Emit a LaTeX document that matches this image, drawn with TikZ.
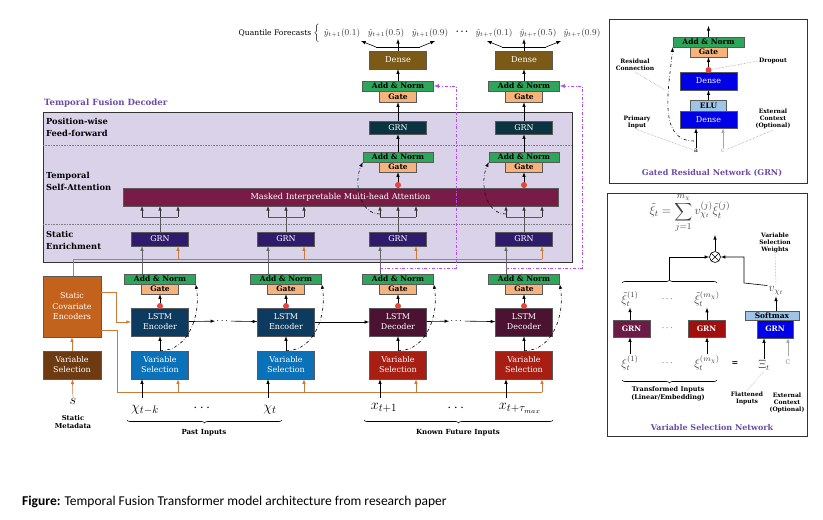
\documentclass[tikz,border=0pt]{standalone}
\usepackage{amssymb, mathtools}
\usepackage{fontspec}
\setmainfont{DejaVu Serif}
\newfontfamily\capfont{Carlito}
\usetikzlibrary{decorations.pathreplacing}

\definecolor{decbg}{HTML}{DAD2E9}
\definecolor{decpurple}{HTML}{6B4BA6}
\definecolor{attnred}{HTML}{781B47}
\definecolor{grnenr}{HTML}{2E1B6C}
\definecolor{grnpos}{HTML}{0C3440}
\definecolor{addgreen}{HTML}{2DA55A}
\definecolor{gatepeach}{HTML}{F6B37C}
\definecolor{densebrown}{HTML}{7A5A16}
\definecolor{lstmenc}{HTML}{0D3A5F}
\definecolor{lstmdec}{HTML}{4B1232}
\definecolor{vsenc}{HTML}{0B72B9}
\definecolor{vsdec}{HTML}{A71E12}
\definecolor{scebox}{HTML}{C2621C}
\definecolor{staticvs}{HTML}{6D3A12}
\definecolor{orangeline}{HTML}{CC7A3A}
\definecolor{skipviolet}{HTML}{B44CF2}
\definecolor{dotred}{HTML}{E5463D}
\definecolor{denseblue}{HTML}{0000E6}
\definecolor{lightblue}{HTML}{9EC4E6}
\definecolor{vsngrnA}{HTML}{6C1B47}
\definecolor{vsngrnB}{HTML}{A10F0D}

\begin{document}
\begin{tikzpicture}[x=1pt, y=-1pt,
    box/.style={draw=black!65, line width=0.5pt, inner sep=0pt, align=center, text=white, font=\fontsize{8}{9}\selectfont},
    addnorm/.style={box, fill=addgreen, text=black, minimum width=71, minimum height=10, font=\fontsize{7.5}{8}\selectfont\bfseries},
    gatebox/.style={box, fill=gatepeach, text=black, minimum width=37, minimum height=10, font=\fontsize{7.5}{8}\selectfont\bfseries},
    reddot/.style={circle, fill=dotred, inner sep=0pt, minimum size=6},
    arr/.style={-latex, line width=0.6pt},
    res/.style={-latex, dash dot, line width=0.6pt},
    skipline/.style={-latex, dash dot, draw=skipviolet, line width=0.8pt},
    note/.style={font=\fontsize{6}{7}\selectfont\bfseries, align=center, inner sep=1pt},
    leader/.style={densely dotted, black!45, line width=0.5pt},
    bigmath/.style={font=\fontsize{15}{18}\selectfont, inner sep=1pt},
    vmath/.style={text=black!75, font=\fontsize{12}{13}\selectfont, inner sep=1pt}]

      \useasboundingbox[fill=white] (0,0) rectangle (823,520);

      % temporal fusion decoder
      \draw[fill=decbg, draw=black!80, line width=0.7pt] (43,112) rectangle (572,262);
      \draw[densely dotted, black!50, line width=0.6pt] (43,145) -- (572,145);
      \draw[densely dotted, black!50, line width=0.6pt] (43,224) -- (572,224);
      \node[anchor=west, text=decpurple, font=\fontsize{8.6}{9}\selectfont\bfseries, inner sep=0pt] (tfd) at (44,103) {Temporal Fusion Decoder};
      \node[anchor=north west, align=left, font=\fontsize{8.3}{12}\selectfont\bfseries, inner sep=0pt] (pwff) at (46,118) {Position-wise\\Feed-forward};
      \node[anchor=north west, align=left, font=\fontsize{8.3}{12}\selectfont\bfseries, inner sep=0pt] (tsa) at (46,172) {Temporal\\Self-Attention};
      \node[anchor=north west, align=left, font=\fontsize{8.3}{11.5}\selectfont\bfseries, inner sep=0pt] (senr) at (46,231) {Static\\Enrichment};

      \node[box, fill=attnred, minimum width=435, minimum height=18, font=\fontsize{8.2}{9}\selectfont] (att) at (340.5,197) {Masked Interpretable Multi-head Attention};

      % static covariate encoders
      \node[box, fill=scebox, minimum width=58, minimum height=61, font=\fontsize{8}{10.5}\selectfont] (sce) at (72,306.5) {Static\\Covariate\\Encoders};
      \node[box, fill=staticvs, minimum width=58, minimum height=28, font=\fontsize{8}{10}\selectfont] (svs) at (72,365) {Variable\\Selection};
      \node[bigmath] (smeta) at (73,401) {$s$};
      \node[note, font=\fontsize{6.8}{8}\selectfont\bfseries] (smetalab) at (73,422) {Static\\Metadata};
      \draw[arr, orangeline] (smeta) -- (svs);
      \draw[arr, orangeline] (svs) -- (sce);
      \draw[orangeline, line width=0.7pt] (sce.north -| 73,0) -- (73,259) -- (542,259);
      \draw[arr, orangeline] (sce.east |- 0,292) -- (116,292) -- (116,322) -- (131,322);
      \draw[orangeline, line width=0.7pt] (sce.east |- 0,330) -- (117,330) -- (117,392) -- (542,392);

      % lstm columns
      \foreach \i/\x/\vcol/\lcol/\lname in {1/160/vsenc/lstmenc/Encoder, 2/286/vsenc/lstmenc/Encoder, 3/398/vsdec/lstmdec/Decoder, 4/524/vsdec/lstmdec/Decoder} {
        \node[box, fill=\vcol, minimum width=57, minimum height=28, font=\fontsize{8}{10}\selectfont] (vs\i) at (\x,365) {Variable\\Selection};
        \node[box, fill=\lcol, minimum width=57, minimum height=28, font=\fontsize{8}{10}\selectfont] (lstm\i) at (\x,322) {LSTM\\\lname};
        \node[gatebox] (lg\i) at (\x,289) {Gate};
        \node[addnorm] (la\i) at (\x,279) {Add \& Norm};
        \node[box, fill=grnenr, minimum width=57, minimum height=14] (eg\i) at (\x,239) {GRN};
        \draw[arr] (vs\i) -- (lstm\i);
        \draw[arr] (lstm\i) -- (lg\i);
        \node[reddot] (ld\i) at (\x,306) {};
        \draw[res] (vs\i.north) to[out=0, in=-80] (la\i.south east);
        \coordinate (in\i) at ({\x-18},398);
        \draw[arr] (in\i) -- (in\i |- vs\i.south);
        \coordinate (ob\i) at ({\x+18},392);
        \draw[arr, orangeline] (ob\i) -- (ob\i |- vs\i.south);
        \coordinate (oe\i) at ({\x+18},259);
        \draw[arr, orangeline] (oe\i) -- (oe\i |- eg\i.south);
        \coordinate (la\i up) at ({\x-18},274);
        \draw[arr, black!60] (la\i up) -- (la\i up |- eg\i.south);
        \coordinate (br\i) at (\x,217);
        \draw[black!65, line width=0.6pt] (eg\i) -- (br\i);
        \draw[black!65, line width=0.6pt] ({\x-18},217) -- ({\x+18},217);
        \foreach \d in {-18,0,18}
          \draw[arr, black!80] ({\x+\d},217) -- ({\x+\d},206);
      }

      \node[inner sep=1pt] (ldots1) at (223,321) {$\cdots$};
      \node[inner sep=1pt] (ldots2) at (457,321) {$\cdots$};
      \draw[arr] (lstm1) -- (ldots1);
      \draw[arr] (ldots1) -- (lstm2);
      \draw[arr] (lstm2) -- (lstm3);
      \draw[arr] (lstm3) -- (ldots2);
      \draw[arr] (ldots2) -- (lstm4);

      % decoder outputs
      \foreach \i/\x in {3/398, 4/524} {
        \node[gatebox] (ag\i) at (\x,167) {Gate};
        \node[addnorm, minimum width=70] (aa\i) at (\x,157) {Add \& Norm};
        \node[box, fill=grnpos, minimum width=57, minimum height=13] (pg\i) at (\x,127.5) {GRN};
        \node[gatebox, minimum height=11] (og\i) at (\x,96.5) {Gate};
        \node[addnorm] (oa\i) at (\x,86) {Add \& Norm};
        \node[box, fill=densebrown, minimum width=57, minimum height=18, font=\fontsize{8.2}{9}\selectfont] (dn\i) at (\x,60) {Dense};
        \draw[arr] (\x,188) -- (ag\i.south);
        \node[reddot] (ad\i) at (\x,185) {};
        \draw[arr] (aa\i) -- (pg\i);
        \draw[arr] (pg\i) -- (og\i);
        \draw[arr] (oa\i) -- (dn\i);
        \draw[res] ({\x-18},214) to[out=180, in=-115] (aa\i.south west);
        \draw[skipline] ({\x-18},268) -- ({\x+58},268) -- ({\x+58},86) -- (oa\i.east);
        \coordinate (fan\i) at (\x,47);
        \draw[line width=0.6pt] (dn\i.north) -- (fan\i);
        \draw[line width=0.6pt] ({\x-22},47) -- ({\x+22},47);
        \draw[arr] ({\x-22},47) -- ({\x-37},41);
        \draw[arr] (fan\i) -- (\x,39);
        \draw[arr] ({\x+22},47) -- ({\x+37},41);
      }

      % quantile forecasts
      \node[anchor=east, font=\fontsize{7.6}{8}\selectfont, inner sep=0pt] (qf) at (320,33) {Quantile Forecasts $\bigg\{$};
      \node[font=\fontsize{9}{10}\selectfont, text=black!80] (q1) at (342,33) {$\hat{y}_{t+1}(0.1)$};
      \node[font=\fontsize{9}{10}\selectfont, text=black!80] (q2) at (386,33) {$\hat{y}_{t+1}(0.5)$};
      \node[font=\fontsize{9}{10}\selectfont, text=black!80] (q3) at (430,33) {$\hat{y}_{t+1}(0.9)$};
      \node[font=\fontsize{9}{9}\selectfont] (qdots) at (462,32) {$\boldsymbol{\ldots}$};
      \node[font=\fontsize{9}{10}\selectfont, text=black!80] (q4) at (494,33) {$\hat{y}_{t+\tau}(0.1)$};
      \node[font=\fontsize{9}{10}\selectfont, text=black!80] (q5) at (538,33) {$\hat{y}_{t+\tau}(0.5)$};
      \node[font=\fontsize{9}{10}\selectfont, text=black!80] (q6) at (582,33) {$\hat{y}_{t+\tau}(0.9)$};

      % inputs
      \node[bigmath] (x1) at (145,410) {$\chi_{t-k}$};
      \node[bigmath] (x1dots) at (203,408) {$\cdots$};
      \node[bigmath] (x2) at (270,410) {$\chi_t$};
      \node[bigmath] (x3) at (384,408) {$x_{t+1}$};
      \node[bigmath] (x3dots) at (457,408) {$\cdots$};
      \node[bigmath] (x4) at (520,408) {$x_{t+\tau_{max}}$};
      \draw[decorate, decoration={brace, mirror, amplitude=3}, line width=0.6pt] (127,420) -- (282,420);
      \draw[decorate, decoration={brace, mirror, amplitude=3}, line width=0.6pt] (364,420) -- (553,420);
      \node[note, font=\fontsize{7}{8}\selectfont\bfseries] (pastlab) at (204,433) {Past Inputs};
      \node[note, font=\fontsize{7}{8}\selectfont\bfseries] (futlab) at (458,433) {Known Future Inputs};

      % gated residual network
      \draw[draw=black!80, line width=0.7pt] (609,19) rectangle (807,183);
      \node[addnorm] (gadd) at (708.5,42) {Add \& Norm};
      \node[gatebox] (ggate) at (708.5,52) {Gate};
      \node[box, fill=denseblue, minimum width=57, minimum height=18, font=\fontsize{8}{9}\selectfont] (gd1) at (708.5,81) {Dense};
      \node[box, fill=lightblue, text=black, minimum width=36, minimum height=11, font=\fontsize{7.5}{8}\selectfont\bfseries] (gelu) at (708.5,105.5) {ELU};
      \node[box, fill=denseblue, minimum width=57, minimum height=17, font=\fontsize{8}{9}\selectfont] (gd2) at (708.5,119.5) {Dense};
      \coordinate (gout) at (708.5,26);
      \draw[arr] (gadd) -- (gout);
      \draw[arr] (gelu) -- (gd1);
      \draw[arr] (gd1) -- (ggate);
      \node[reddot] (gdot) at (708.5,70) {};
      \node[font=\fontsize{6.5}{7}\selectfont, inner sep=1pt] (ga) at (696,151) {a};
      \node[font=\fontsize{6.5}{7}\selectfont, inner sep=1pt, text=black!35] (gc) at (723,151) {c};
      \draw[arr] (ga) -- (ga |- gd2.south);
      \draw[arr, black!35] (gc) -- (gc |- gd2.south);
      \draw[res] (694,141) to[out=180, in=-95] (gadd.south west);
      \node[note] (gres) at (635,65) {Residual\\Connection};
      \node[note] (gdrop) at (773,61) {Dropout};
      \node[note] (gprim) at (637,122) {Primary\\Input};
      \node[note] (gext) at (773,119) {External\\Context\\(Optional)};
      \draw[leader] (gres.south) -- (665,90);
      \draw[leader] (gdrop.west) -- (gdot);
      \draw[leader] (gprim.south) -- (ga);
      \draw[leader] (gext.south) -- (gc);
      \node[text=decpurple, font=\fontsize{8}{9}\selectfont\bfseries] (gtitle) at (712,173) {Gated Residual Network (GRN)};

      % variable selection network
      \draw[draw=black!80, line width=0.7pt] (607,193) rectangle (807,436);
      \node[text=black!75, font=\fontsize{12.5}{13}\selectfont, inner sep=0pt] (vform) at (690,213) {$\displaystyle \tilde{\xi}_t = \sum_{j=1}^{m_\chi} v_{\chi_t}^{(j)}\tilde{\xi}_t^{(j)}$};
      \node[draw, circle, minimum size=11, inner sep=0pt, line width=0.6pt, path picture={\draw (path picture bounding box.north west) -- (path picture bounding box.south east) (path picture bounding box.north east) -- (path picture bounding box.south west);}] (vmul) at (715,257) {};
      \coordinate (vtop) at (715,235);
      \draw[arr] (vmul) -- (vtop);
      \node[vmath] (xt1) at (630,299) {$\tilde{\xi}_t^{(1)}$};
      \node[font=\fontsize{9}{9}\selectfont] (xtdots) at (668,299) {$\cdots$};
      \node[vmath] (xt2) at (707,299) {$\tilde{\xi}_t^{(m_\chi)}$};
      \node[box, fill=vsngrnA, minimum width=37, minimum height=17, font=\fontsize{7.5}{8}\selectfont\bfseries] (vg1) at (631.5,328.5) {GRN};
      \node[font=\fontsize{9}{9}\selectfont] (vgdots) at (668,328) {$\cdots$};
      \node[box, fill=vsngrnB, minimum width=37, minimum height=17, font=\fontsize{7.5}{8}\selectfont\bfseries] (vg2) at (706.5,328.5) {GRN};
      \node[vmath] (xi1) at (630,363) {$\xi_t^{(1)}$};
      \node[font=\fontsize{9}{9}\selectfont] (xidots) at (668,363) {$\cdots$};
      \node[vmath] (xi2) at (707,363) {$\xi_t^{(m_\chi)}$};
      \node[font=\fontsize{8}{9}\selectfont\bfseries] (veq) at (735,364) {=};
      \node[vmath] (vxi) at (764,365) {$\Xi_t$};
      \node[text=black!35, font=\fontsize{9}{10}\selectfont] (vc) at (788,362) {c};
      \draw[arr] (vg1.north -| xt1) -- (xt1);
      \draw[arr] (vg2.north -| xt2) -- (xt2);
      \draw[arr] (xi1) -- (xi1 |- vg1.south);
      \draw[arr] (xi2) -- (xi2 |- vg2.south);
      \draw[decorate, decoration={brace, amplitude=3}, line width=0.6pt] (622,283) -- (717,283);
      \draw[decorate, decoration={brace, mirror, amplitude=3}, line width=0.6pt] (622,380) -- (717,380);
      \coordinate (vbr) at (669.5,280);
      \draw[arr] (vbr) |- (vmul.west);
      \node[box, fill=lightblue, text=black, minimum width=54, minimum height=9, font=\fontsize{7.5}{8}\selectfont\bfseries] (vsoft) at (772,315.5) {Softmax};
      \node[box, fill=denseblue, minimum width=36, minimum height=18, font=\fontsize{7.5}{8}\selectfont\bfseries] (vg3) at (775,329) {GRN};
      \node[vmath] (vw) at (776,291) {$v_{\chi_t}$};
      \draw[arr] (vsoft.north -| vw) -- (vw);
      \draw[arr] (vw.north west) -- (744,283) |- (vmul.east);
      \draw[arr] (vxi) -- (vxi |- vg3.south);
      \draw[arr, black!35] (vc) -- (vc |- vg3.south);
      \node[note] (vweights) at (775,243) {Variable\\Selection\\Weights};
      \draw[leader] (vweights.south) -- (vw.north);
      \node[note] (vflat) at (747,398) {Flattened\\Inputs};
      \node[note] (vext) at (787,403) {External\\Context\\(Optional)};
      \draw[leader] (vflat.north) -- (vxi.south);
      \node[note, font=\fontsize{6.5}{8}\selectfont\bfseries] (vtrans) at (668,394) {Transformed Inputs\\(Linear/Embedding)};
      \node[text=decpurple, font=\fontsize{8}{9}\selectfont\bfseries] (vtitle) at (712,428) {Variable Selection Network};

      % caption
      \node[anchor=west, font=\capfont\fontsize{13.5}{16}\selectfont, inner sep=0pt] (caption) at (22,502) {\textbf{Figure:} Temporal Fusion Transformer model architecture from research paper};

    \end{tikzpicture}
\end{document}
